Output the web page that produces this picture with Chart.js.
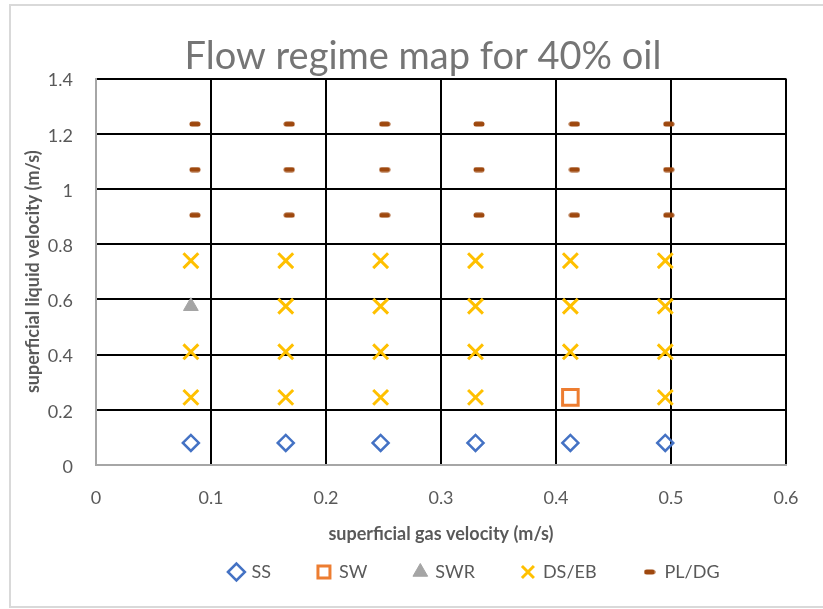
<!DOCTYPE html>
<html>
<head>
<meta charset="utf-8">
<script src="https://cdn.jsdelivr.net/npm/chart.js@4/dist/chart.umd.min.js"></script>
<style>
  html, body { margin: 0; padding: 0; background: #fff; }
  #wrap { width: 823px; height: 609px; }
</style>
</head>
<body>
<div id="wrap"><canvas id="chart" width="823" height="609"></canvas></div>
<script>
// SS - stratified smooth
const ssX = [0.0825, 0.165, 0.2475, 0.33, 0.4125, 0.495];
const ssY = [0.08, 0.08, 0.08, 0.08, 0.08, 0.08];

// SW - stratified wavy
const swX = [0.4125];
const swY = [0.245];

// SWR
const swrX = [0.0825];
const swrY = [0.575];

// DS/EB
const dsX = [0.0825, 0.0825, 0.0825,
             0.165, 0.165, 0.165, 0.165,
             0.2475, 0.2475, 0.2475, 0.2475,
             0.33, 0.33, 0.33, 0.33,
             0.4125, 0.4125, 0.4125,
             0.495, 0.495, 0.495, 0.495];
const dsY = [0.245, 0.41, 0.74,
             0.245, 0.41, 0.575, 0.74,
             0.245, 0.41, 0.575, 0.74,
             0.245, 0.41, 0.575, 0.74,
             0.41, 0.575, 0.74,
             0.245, 0.41, 0.575, 0.74];

// PL/DG (marks sit a little to the right of the others in the picture)
const plX = [0.086, 0.086, 0.086, 0.168, 0.168, 0.168, 0.251, 0.251, 0.251,
             0.333, 0.333, 0.333, 0.416, 0.416, 0.416, 0.498, 0.498, 0.498];
const plY = [0.905, 1.07, 1.235, 0.905, 1.07, 1.235, 0.905, 1.07, 1.235,
             0.905, 1.07, 1.235, 0.905, 1.07, 1.235, 0.905, 1.07, 1.235];

const seriesNames = ['SS', 'SW', 'SWR', 'DS/EB', 'PL/DG'];
const xTicks = [0, 0.1, 0.2, 0.3, 0.4, 0.5, 0.6];
const yTicks = [0, 0.2, 0.4, 0.6, 0.8, 1, 1.2, 1.4];

const toPoints = (xs, ys) => xs.map((x, i) => ({ x: x, y: ys[i] }));

// small rounded dash used as the PL/DG marker
const dash = document.createElement('canvas');
dash.width = 12;
dash.height = 6;
(function () {
    const c = dash.getContext('2d');
    c.fillStyle = '#9E480E';
    c.beginPath();
    c.roundRect(0.5, 0.5, 11, 5, 2.5);
    c.fill();
})();

const FONT = 'Lato, "Open Sans", "Noto Sans", sans-serif';
const GREY = '#595959';

const framePlugin = {
    id: 'frame',
    beforeDraw(chart) {
        const ctx = chart.ctx;
        ctx.save();
        ctx.fillStyle = '#fff';
        ctx.fillRect(0, 0, chart.width, chart.height);
        ctx.strokeStyle = '#d9d9d9';
        ctx.lineWidth = 2;
        ctx.beginPath();
        ctx.moveTo(chart.width, 5);
        ctx.lineTo(10, 5);
        ctx.lineTo(10, 607);
        ctx.lineTo(chart.width, 607);
        ctx.stroke();
        ctx.restore();
    }
};

// nudge title and legend sideways like the original layout
const shiftPlugin = {
    id: 'shift',
    afterLayout(chart) {
        if (chart.titleBlock) {
            chart.titleBlock.left += 25;
            chart.titleBlock.right += 25;
        }
        if (chart.legend) {
            chart.legend.left += 77;
            chart.legend.right += 77;
        }
    }
};

const gridColor = ctx => (ctx.tick && ctx.tick.value === 0) ? '#a6a6a6' : '#000';
const fmt = v => String(+Number(v).toFixed(2));

new Chart(document.getElementById('chart'), {
    type: 'scatter',
    data: {
        datasets: [
            {
                label: seriesNames[0],
                data: toPoints(ssX, ssY),
                pointStyle: 'rectRot',
                pointRadius: 8,
                pointHoverRadius: 8,
                borderColor: '#4472C4',
                backgroundColor: 'rgba(255,255,255,0)',
                borderWidth: 2.5
            },
            {
                label: seriesNames[1],
                data: toPoints(swX, swY),
                pointStyle: 'rect',
                pointRadius: 11,
                pointHoverRadius: 11,
                borderColor: '#ED7D31',
                backgroundColor: 'rgba(255,255,255,0)',
                borderWidth: 3
            },
            {
                label: seriesNames[2],
                data: toPoints(swrX, swrY),
                pointStyle: 'triangle',
                pointRadius: 8.5,
                pointHoverRadius: 8.5,
                borderColor: '#A5A5A5',
                backgroundColor: '#A5A5A5',
                borderWidth: 1
            },
            {
                label: seriesNames[3],
                data: toPoints(dsX, dsY),
                pointStyle: 'crossRot',
                pointRadius: 10.5,
                pointHoverRadius: 10.5,
                borderColor: '#FFC000',
                backgroundColor: '#FFC000',
                borderWidth: 3
            },
            {
                label: seriesNames[4],
                data: toPoints(plX, plY),
                pointStyle: dash,
                pointRadius: 5,
                pointHoverRadius: 5,
                borderColor: '#9E480E',
                backgroundColor: '#9E480E',
                borderWidth: 0
            }
        ]
    },
    options: {
        responsive: false,
        animation: false,
        layout: { padding: { left: 10, right: 37, top: 0, bottom: 18 } },
        plugins: {
            title: {
                display: true,
                text: 'Flow regime map for 40% oil',
                color: '#757575',
                font: { family: FONT, size: 38, weight: '400' },
                padding: { top: 33.8, bottom: -0.9 }
            },
            legend: {
                position: 'bottom',
                labels: {
                    usePointStyle: true,
                    boxWidth: 12,
                    boxHeight: 12,
                    padding: 47,
                    color: GREY,
                    font: { family: FONT, size: 18 }
                }
            },
            tooltip: { enabled: false }
        },
        scales: {
            x: {
                type: 'linear',
                min: 0,
                max: 0.6,
                afterBuildTicks: s => { s.ticks = xTicks.map(v => ({ value: v })); },
                afterFit: s => { s.height = 51; },
                ticks: { color: GREY, padding: 22, callback: fmt, font: { family: FONT, size: 18 } },
                grid: { color: gridColor, lineWidth: 2, drawTicks: false },
                border: { color: '#a6a6a6', width: 2 },
                title: {
                    display: true,
                    text: 'superficial gas velocity (m/s)',
                    color: GREY,
                    font: { family: FONT, size: 18, weight: 'bold' },
                    padding: { top: 0, bottom: -29 }
                }
            },
            y: {
                type: 'linear',
                min: 0,
                max: 1.4,
                afterBuildTicks: s => { s.ticks = yTicks.map(v => ({ value: v })); },
                afterFit: s => { s.width = 86; },
                ticks: { color: GREY, padding: 23, labelOffset: 2, callback: fmt, font: { family: FONT, size: 18 } },
                grid: { color: gridColor, lineWidth: 2, drawTicks: false },
                border: { color: '#a6a6a6', width: 2 },
                title: {
                    display: true,
                    text: 'superficial liquid velocity (m/s)',
                    color: GREY,
                    font: { family: FONT, size: 18, weight: 'bold' },
                    padding: { top: 12.5, bottom: 0 }
                }
            }
        }
    },
    plugins: [framePlugin, shiftPlugin]
});
</script>
</body>
</html>
